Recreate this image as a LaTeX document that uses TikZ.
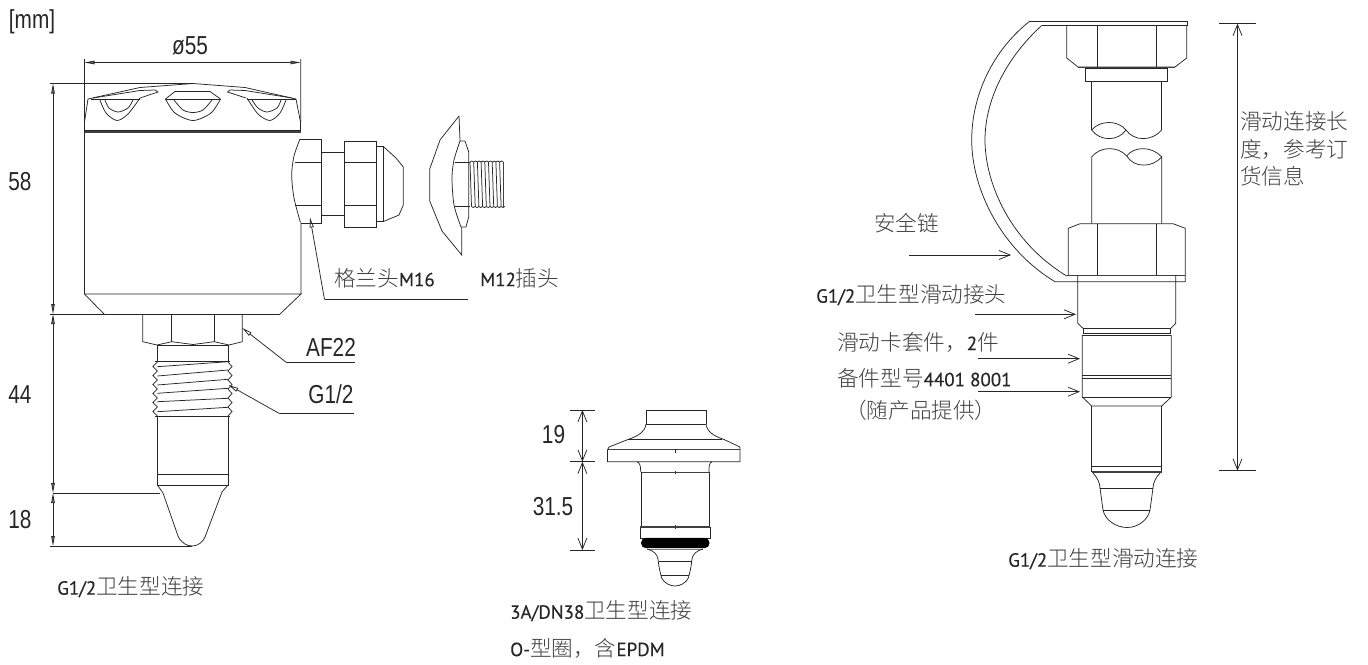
\documentclass[tikz,border=0pt]{standalone}
\usepackage{fontspec}
\setmainfont[FakeBold=0.35]{PT Sans}
\newfontfamily\cjk{Noto Sans CJK SC Light}
\newfontfamily\dimfont[FakeStretch=0.8]{Liberation Sans}
\usetikzlibrary{arrows.meta}
\usetikzlibrary{calc}
\newcommand{\cn}[1]{{\cjk\fontsize{21.6}{22}\selectfont\color{black!75}#1}}
\tikzset{ln/.style={line width=0.75pt,draw=black!85}}
\tikzset{thick line/.style={line width=1.5pt,draw=black!75}}
\tikzset{barb/.style={ln,-{Straight Barb[length=11pt,width=9pt]}}}
\tikzset{barbs/.style={ln,{Straight Barb[length=11pt,width=9pt]}-{Straight Barb[length=11pt,width=9pt]}}}
\tikzset{tri/.style={ln,-{Triangle[open,length=10pt,width=4pt]}}}
\tikzset{tris/.style={ln,{Triangle[fill=black!60,length=10pt,width=3.5pt]}-{Triangle[fill=black!60,length=10pt,width=3.5pt]}}}
\tikzset{dimtxt/.style={font=\fontsize{26}{26}\selectfont\dimfont,text=black!85,inner sep=0pt}}
\tikzset{lbl/.style={font=\fontsize{19}{22}\selectfont,text=black!85,inner sep=0pt,anchor=west}}
\begin{document}
\begin{tikzpicture}[x=1pt,y=-1pt]
  \useasboundingbox (0,0) rectangle (1368,664);
  \coordinate (ta) at (84.5,62.5);
  \coordinate (tb) at (300.5,62.5);
  \coordinate (ha) at (53,83.5);
  \coordinate (hb) at (53,314);
  \coordinate (hc) at (53,493);
  \coordinate (hd) at (53,546);
  \coordinate (ma) at (582.4,410);
  \coordinate (mb) at (582.4,461.7);
  \coordinate (mc) at (582.4,550);
  \coordinate (ra) at (1237.5,23.7);
  \coordinate (rb) at (1237.5,470.7);

  \node [dimtxt] (unit) at (32,22) {[mm]};
  \node [dimtxt] (dia) at (190,46) {ø55};
  \node [dimtxt] (h58) at (20,182) {58};
  \node [dimtxt] (h44) at (20,395) {44};
  \node [dimtxt] (h18) at (20,520) {18};
  \node [dimtxt] (h19) at (553.5,435) {19};
  \node [dimtxt] (h31) at (553,507) {31.5};
  \node [dimtxt] (af) at (331,347) {AF22};
  \node [dimtxt] (gt) at (331,394) {G1/2};

  % housing
  \draw [tris] (ta) -- (tb);
  \draw [ln] (84.5,59) -- (84.5,294) -- (104,314) (300.7,59) -- (300.7,122);
  \draw [ln] (50,83.5) -- (193,83.5) -- (245,87.5) -- (296,99) -- (300.5,122) -- (300.5,131);
  \draw [ln] (193,83.5) -- (140,87.5) -- (88,99) -- (84.5,122);
  \draw [ln] (84.5,130) -- (300.5,130);
  \draw [thick line] (84.5,132) -- (300.5,132);
  \draw [ln] (91,99) -- (140,99) (165,99) -- (220,99) (247,99) -- (296,99);
  \draw [ln] (93,98) -- (140,90.5) -- (155,90) -- (158,92) -- (140,98);
  \draw [ln] (292,98) -- (245,90.5) -- (230,90) -- (227.5,92) -- (246,98);
  \draw [ln] plot [smooth] coordinates {(100,100) (106,113) (117,120.5) (128,114) (140,98)};
  \draw [ln] plot [smooth] coordinates {(105,100) (109,108) (118,112) (128,108) (133,100)};
  \draw [ln] plot [smooth] coordinates {(247,98) (258,114) (270,120.5) (280,113) (286,100)};
  \draw [ln] plot [smooth] coordinates {(252,100) (258,108) (267,112) (277,108) (281,100)};
  \draw [ln] plot [smooth] coordinates {(165.5,99) (175,113) (193,120.5) (211,113) (220.5,99)};
  \draw [ln] plot [smooth] coordinates {(174,100) (183,110) (193,112.5) (203,110) (212,100)};
  \draw [ln] (165.5,99) -- (175,91.5) -- (210,91.5) -- (220.5,99);
  \draw [ln] (84.5,294) -- (301,294) -- (280,314) (301,223) -- (301,294);
  \draw [ln] (50,314) -- (280,314);
  \draw [tris] (ha) -- (hb);
  \draw [tris] (hb) -- (hc);
  \draw [tris] (hc) -- (hd);
  \draw [ln] (53,493) -- (160,493) (50,546) -- (192,546);

  % gland
  \draw [ln] plot [smooth] coordinates {(300,139) (294,156) (291.7,175) (294,198) (300.5,222.5)};
  \draw [ln] (300,139) -- (321.7,139) -- (321.7,223) -- (300.5,223);
  \draw [ln] (295,162) -- (321.7,162) (295,205) -- (321.7,205);
  \draw [ln] (321.7,152.5) -- (344,152.5) (321.7,215) -- (344,215);
  \draw [ln] (344,141) rectangle (376,227) (344,162) -- (376,162) (344,205) -- (376,205);
  \draw [ln] (376,146.7) rectangle (383.5,221.5);
  \draw [ln] (383.5,146.7) -- (396,158) -- (403.3,167) -- (403.3,205) -- (399,215) -- (383.5,221.5);

  % m12 plug
  \draw [ln] (459,116) -- (440,140) -- (429.7,169) -- (429.7,201) -- (442,231) -- (461.7,255) -- (461.7,227);
  \draw [ln] (459,116) -- (460,141);
  \draw [ln] plot [smooth] coordinates {(460,141) (454,160) (452,178) (454,205) (461,227)};
  \draw [ln] (460,141) -- (465,141) -- (468.7,152) -- (468.7,217) -- (466,227) -- (461,227);
  \draw [ln] (455,162) -- (470,162) (455,206.5) -- (470,206.5);
  \foreach \x in {0,...,8} {
    \draw [ln] (470+\x*3.7,162) -- (471.5+\x*3.7,206.5);
    \draw [ln] (470+\x*3.7,162) to [bend left=70] (473.7+\x*3.7,162);
    \draw [ln] (471.5+\x*3.7,206.5) to [bend right=70] (475.2+\x*3.7,206.5);
  }
  \draw [thick line] (503.5,162) -- (503.5,207);

  % stem and thread
  \coordinate (af tip) at (242.3,328);
  \coordinate (gt tip) at (228.5,385);
  \coordinate (gl tip) at (310,217.5);
  \draw [ln] (142.7,314) -- (142.7,341.7) -- (157,345) -- (171.7,341.7) -- (193,344.5) -- (214.3,341.7) -- (229,345) -- (242.3,341.7) -- (242.3,314);
  \draw [ln] (171.7,314) -- (171.7,341.7) (214.3,314) -- (214.3,341.7);
  \draw [ln] (157.3,345) -- (228,345) (157.3,345) -- (157.3,361) (228,345) -- (228,361);
  \draw [ln] (155,361) -- (230,361) (155,416) -- (230,416);
  \foreach \y/\z in {366.7/361.7,376/370,385/379.3,393.3/388.3,401.7/398.3,411.7/407.3}
    \draw [ln] (157.3,\y) -- (228,\z);
  \foreach \y in {362,371,380,389,398,407} {
    \draw [ln] (157.3,\y) -- (153,\y+4.5) -- (157.3,\y+9);
    \draw [ln] (228,\y) -- (232,\y+4.5) -- (228,\y+9);
  }
  \draw [ln] (157.3,416) -- (157.3,485) -- (228,485) -- (228,416);
  \draw [ln] (157.3,474.5) -- (228,474.5);
  \draw [ln] (157.3,485) -- (163,493) -- (178,536);
  \draw [ln] (228,485) -- (222,492) -- (205,537);
  \draw [ln] (178,536) .. controls (181,543) and (187,546) .. (192,546) .. controls (198,546) and (203,542) .. (205,537);
  \draw [tri] (324.5,299.5) -- (gl tip);
  \draw [ln] (324.5,299.5) -- (468,299.5);
  \draw [tri] (286.7,362.7) -- (af tip);
  \draw [ln] (286.7,362.7) -- (355,362.7);
  \draw [tri] (279.7,413.7) -- (gt tip);
  \draw [ln] (279.7,413.7) -- (354,413.7);

  % flange connection
  \draw [barbs] (ma) -- (mb);
  \draw [barbs] (mb) -- (mc);
  \foreach \y in {410,461.7,550} \draw [ln] (570,\y) -- (595,\y);
  \draw [ln] (646,424) -- (646,410) -- (706,410) -- (706,424);
  \draw [ln] (646,424) -- (706,424) (628,439.5) -- (722,439.5);
  \draw [ln] (646,424) .. controls (645,432) and (638,436) .. (628,439.5) -- (609,447);
  \draw [ln] (706,424) .. controls (707,432) and (714,436) .. (724,439.5) -- (740,447);
  \draw [ln] (609,447) -- (607.5,450) -- (607.5,461.7) -- (740,461.7) -- (740,447);
  \draw [thick line] (607.5,449.7) -- (740,449.7);
  \draw [ln] (675,449) -- (675,453) (675,471) -- (675,474) (675,525) -- (675,529);
  \draw [ln] (637,461.7) .. controls (640,463) and (640.7,466) .. (640.7,472);
  \draw [ln] (712,461.7) .. controls (709,463) and (709,466) .. (709,472);
  \draw [thick line] (640.7,472.5) -- (709,472.5);
  \draw [ln] (641.7,472) -- (641.7,527) (709,472) -- (709,527);
  \draw [ln] (640,538) rectangle (710.3,527);
  \draw [thick line] (640,527) -- (710.3,527);
  \fill [black,rounded corners=5pt] (641,537.8) rectangle (709.5,548.2);
  \draw [ln,black!50] (647,549.3) -- (703,549.3);
  \draw [ln] (647,549) .. controls (654,551) and (657,554) .. (658,559) .. controls (659,568) and (660,572) .. (661.7,578) .. controls (664,583) and (670,586) .. (675,586) .. controls (680,586) and (686,583) .. (688.3,578) .. controls (690,572) and (691,568) .. (692,559) .. controls (693,554) and (696,551) .. (703,549);
  \draw [ln] (658.5,561.7) -- (691.5,561.7) (661,575.7) -- (689,575.7);

  % sliding connection
  \draw [barbs] (ra) -- (rb);
  \draw [ln] (1219,23.7) -- (1256,23.7) (1219,470.7) -- (1256,470.7);
  \draw [ln] (1041.7,25.5) -- (1187,25.5) -- (1187,21) -- (1030,21);
  \draw [ln] (1030,21) .. controls (993,50) and (971.7,95) .. (971.7,140) .. controls (971.7,190) and (1002,250) .. (1055,281.7) -- (1185.3,281.7) -- (1185.3,275);
  \draw [ln] (1041.7,25.5) .. controls (1006,58) and (985,100) .. (985,140) .. controls (985,185) and (1012,243) .. (1066.7,276);
  \draw [ln] (1066.7,26) -- (1066.7,58) -- (1078,67) -- (1175,67) -- (1186.7,58) -- (1186.7,26);
  \draw [ln] (1097.3,26) -- (1097.3,68) (1156,26) -- (1156,68);
  \draw [thick line] (1078,67.5) -- (1175,67.5);
  \draw [ln] (1085.7,68) rectangle (1167.3,81);
  \draw [ln] (1091.7,81) -- (1091.7,130) (1161.7,81) -- (1161.7,130);
  \draw [ln] (1091.7,130) .. controls (1100,120) and (1118,120) .. (1126,130) .. controls (1134,141.5) and (1152,141.5) .. (1161.7,130);
  \draw [ln] (1091.7,130) .. controls (1100,141.5) and (1118,141.5) .. (1126,130);
  \draw [ln] (1091.7,223.7) -- (1091.7,157) .. controls (1100,146) and (1118,146) .. (1126.7,156) .. controls (1134,168) and (1152,168) .. (1161.7,157) -- (1161.7,223.7);
  \draw [ln] (1126.7,156) .. controls (1134,146) and (1152,146) .. (1161.7,157);
  \draw [ln] (1068.3,275) -- (1068.3,228.3) -- (1080,223.7) -- (1173,223.7) -- (1185.3,228.3) -- (1185.3,275);
  \draw [ln] (1097.3,223.7) -- (1097.3,275) (1156,223.7) -- (1156,275);
  \draw [thick line] (1066.7,275.3) -- (1185.3,275.3);
  \draw [ln] (1077.7,275) -- (1077.7,323.3) -- (1083.3,328.5) -- (1170.7,328.5) -- (1175.7,323.3) -- (1175.7,275);
  \draw [ln] (1083.3,328.5) rectangle (1170.7,333.5);
  \draw [ln] (1082.3,335.5) -- (1171.3,335.5) -- (1171.3,397) -- (1161.7,406) -- (1091.7,406) -- (1082.3,397) -- cycle;
  \draw [ln] (1082.3,375) -- (1171.3,375) (1082.3,378.3) -- (1171.3,378.3) (1082.3,397) -- (1171.3,397);
  \draw [ln] (1091.7,406) -- (1091.7,472) (1161.7,406) -- (1161.7,472);
  \draw [ln] (1091.7,466.7) -- (1161.7,466.7);
  \draw [thick line] (1091.7,472) -- (1161.7,472);
  \draw [ln] (1093,473) .. controls (1097,477) and (1100,483) .. (1100,488) .. controls (1101,495) and (1102,503) .. (1103,510) .. controls (1105,520) and (1116,527.5) .. (1127,527.5) .. controls (1138,527.5) and (1148,520) .. (1150,510) .. controls (1151,503) and (1152,495) .. (1153,488) .. controls (1153,483) and (1156,477) .. (1160,473);
  \draw [ln] (1100,488) -- (1153,488) (1103,510) -- (1150,510);
  \coordinate (ca) at (909,255);
  \coordinate (cb) at (1011,255);
  \coordinate (sa) at (975,314.3);
  \coordinate (sb) at (1076,314.3);
  \coordinate (sc) at (978,358.7);
  \coordinate (sd) at (1080,358.7);
  \coordinate (se) at (978,391.7);
  \coordinate (sf) at (1080,391.7);
  \draw [barb] (ca) -- (cb);
  \draw [barb] (sa) -- (sb);
  \draw [barb] (sc) -- (sd);
  \draw [barb] (se) -- (sf);

  % labels
  \node [lbl] (gland) at (334,278) {\cn{格兰头}M16};
  \node [lbl] (plug) at (480,278) {M12\cn{插头}};
  \node [lbl] (capl) at (57,587) {G1/2\cn{卫生型连接}};
  \node [lbl] (capm) at (510,611) {3A/DN38\cn{卫生型连接}};
  \node [lbl] (capo) at (510,648) {O-\cn{型圈，含}EPDM};
  \node [lbl] (capr) at (1008,559) {G1/2\cn{卫生型滑动连接}};
  \node [lbl] (lena) at (1240,121) {\cn{滑动连接长}};
  \node [lbl] (lenb) at (1240,149) {\cn{度，参考订}};
  \node [lbl] (lenc) at (1240,176) {\cn{货信息}};
  \node [lbl] (chain) at (874,223) {\cn{安全链}};
  \node [lbl] (slip) at (816,295) {G1/2\cn{卫生型滑动接头}};
  \node [lbl] (kit) at (837,342) {\cn{滑动卡套件，}2\cn{件}};
  \node [lbl] (spare) at (837,378) {\cn{备件型号}4401 8001};
  \node [lbl] (incl) at (845,410) {\cn{（随产品提供）}};
\end{tikzpicture}
\end{document}
